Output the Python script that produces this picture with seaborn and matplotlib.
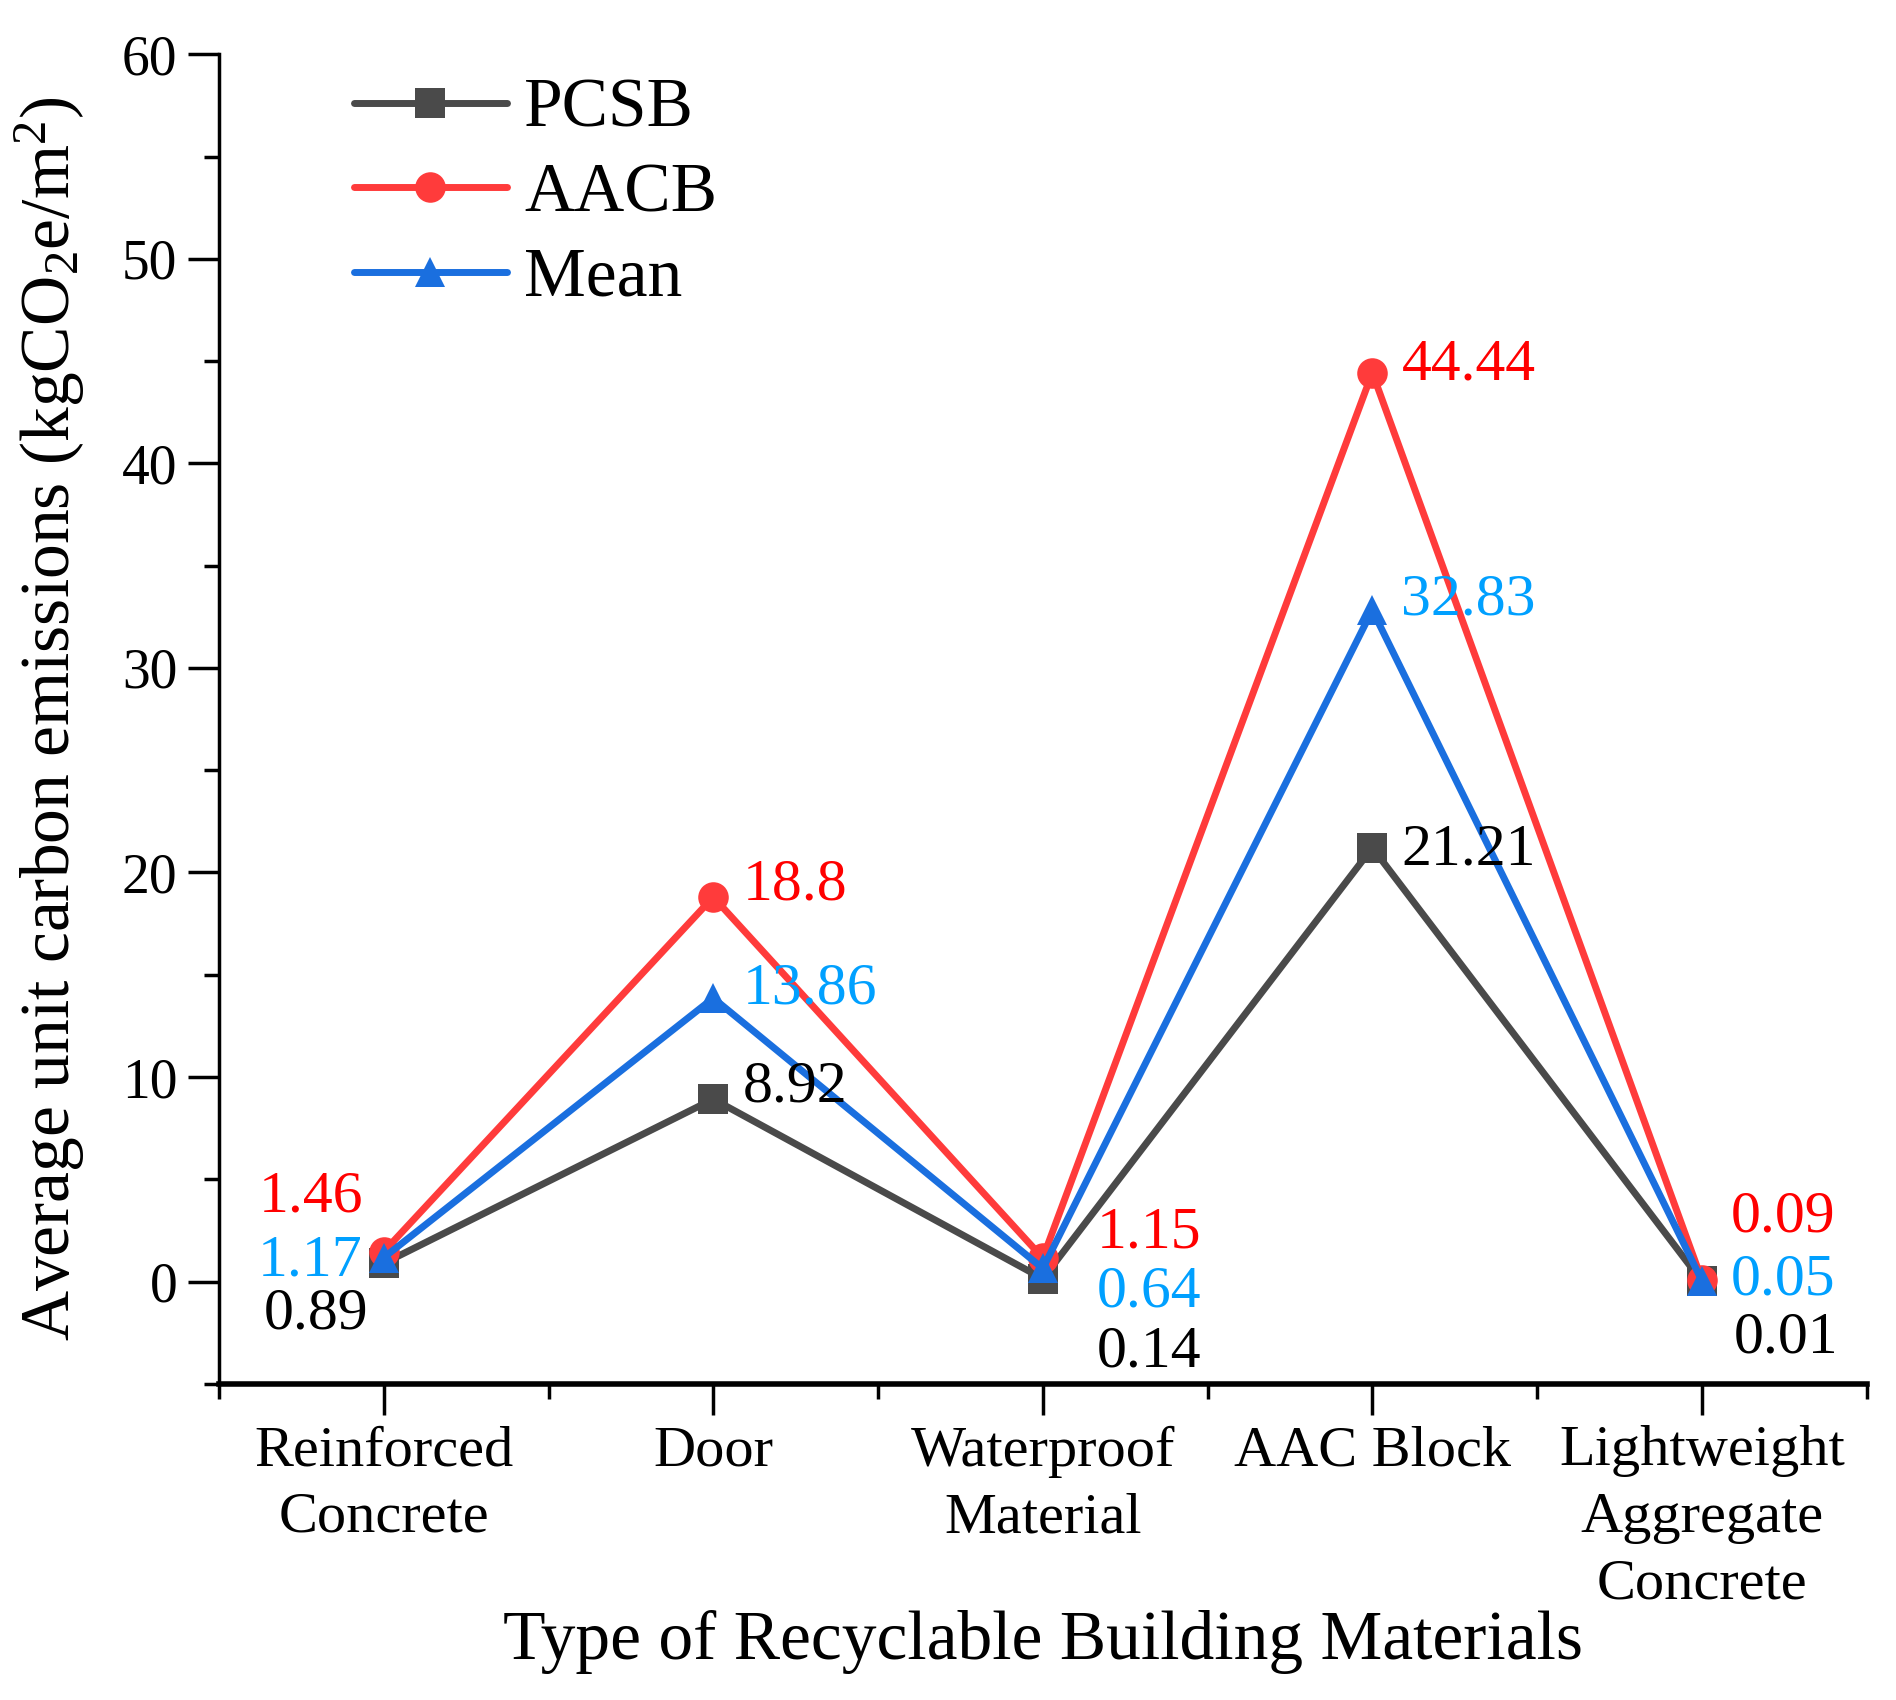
import matplotlib
matplotlib.use("Agg")
import matplotlib.pyplot as plt
import seaborn as sns
import pandas as pd
import numpy as np
from matplotlib.ticker import MultipleLocator, FixedLocator

# ---- data ----
categories = ["Reinforced\nConcrete", "Door", "Waterproof\nMaterial", "AAC Block",
              "Lightweight\nAggregate\nConcrete"]
series_names = ["PCSB", "AACB", "Mean"]
pcsb = [0.89, 8.92, 0.14, 21.21, 0.01]
aacb = [1.46, 18.8, 1.15, 44.44, 0.09]
mean = [1.17, 13.86, 0.64, 32.83, 0.05]
y_ticks = [0, 10, 20, 30, 40, 50, 60]
x_title = "Type of Recyclable Building Materials"
y_title = "Average unit carbon emissions (kgCO$_2$e/m$^2$)"

# ---- styling ----
sns.set_theme(style="ticks")
plt.rcParams["font.family"] = ["Liberation Serif", "DejaVu Serif"]
plt.rcParams["mathtext.fontset"] = "custom"
plt.rcParams["mathtext.rm"] = "Liberation Serif"
plt.rcParams["mathtext.it"] = "Liberation Serif:italic"
plt.rcParams["mathtext.bf"] = "Liberation Serif:bold"
plt.rcParams["axes.labelcolor"] = "black"
plt.rcParams["text.color"] = "black"

line_colors = {"PCSB": "#4a4a4a", "AACB": "#ff3b3b", "Mean": "#1a6fdf"}
text_colors = {"PCSB": "#000000", "AACB": "#ff0000", "Mean": "#00a0ff"}
markers = {"PCSB": "s", "AACB": "o", "Mean": "^"}

# label offsets in points (per series, per category)
offsets = {
    "PCSB": [(-11, -37), (21, 8), (39, -53), (21, -2), (23, -41)],
    "AACB": [(-15, 39), (21, 8), (39, 18), (21, 5), (21, 45)],
    "Mean": [(-15, -3), (21, 6), (39, -17), (21, 7), (21, 0)],
}
aligns = {0: "right", 1: "left", 2: "left", 3: "left", 4: "left"}

series_values = {"PCSB": pcsb, "AACB": aacb, "Mean": mean}
df = pd.DataFrame({
    "Material": categories * 3,
    "Series": [s for s in series_names for _ in categories],
    "Value": pcsb + aacb + mean,
})

fig = plt.figure(figsize=(18.96, 17.0), dpi=100)
ax = fig.add_axes([0.1155, 0.186, 0.869, 0.782])

LW = 5.0
MS = 22
sns.lineplot(data=df, x="Material", y="Value", hue="Series", style="Series",
             markers=markers, dashes=False, palette=line_colors,
             hue_order=series_names, style_order=series_names,
             linewidth=LW, markersize=MS, markeredgewidth=0, ax=ax, sort=False)

for s in series_names:
    for i, v in enumerate(series_values[s]):
        dx, dy = offsets[s][i]
        ax.annotate(f"{v:g}", xy=(i, v), xytext=(dx, dy), textcoords="offset points",
                    ha=aligns[i], va="center", fontsize=43, color=text_colors[s])

ax.set_xlim(-0.5, 4.5)
ax.set_ylim(-5, 60)
ax.set_yticks(y_ticks)
ax.yaxis.set_minor_locator(MultipleLocator(5))
ax.set_xticks(range(len(categories)))
ax.set_xticklabels(categories, linespacing=1.36)
ax.xaxis.set_minor_locator(FixedLocator(np.arange(-0.5, 4.6, 1.0)))

ax.tick_params(axis="both", which="major", direction="out", length=22, width=2.5,
               labelsize=40, color="black", labelcolor="black")
ax.tick_params(axis="x", which="major", pad=8, labelsize=42)
ax.tick_params(axis="y", which="major", pad=8)
ax.tick_params(axis="both", which="minor", direction="out", length=11, width=2.5, color="black")

sns.despine(ax=ax)
ax.spines["left"].set_linewidth(2.5)
ax.spines["bottom"].set_linewidth(4)
ax.spines["left"].set_color("black")
ax.spines["bottom"].set_color("black")

ax.set_xlabel(x_title, fontsize=50, color="black")
ax.set_ylabel(y_title, fontsize=50, color="black")
ax.xaxis.set_label_coords(0.5, -0.17)
ax.yaxis.set_label_coords(-0.08, 0.5)

leg = ax.legend(loc="upper left", bbox_to_anchor=(0.082, 0.982), frameon=False,
                fontsize=50, handlelength=2.2, handletextpad=0.25, labelspacing=0.3,
                borderpad=0, borderaxespad=0, title=None)
for h in leg.legend_handles:
    h.set_linewidth(LW)
    h.set_markersize(MS)
for t in leg.get_texts():
    t.set_color("black")

fig.savefig("out.png", dpi=100)
